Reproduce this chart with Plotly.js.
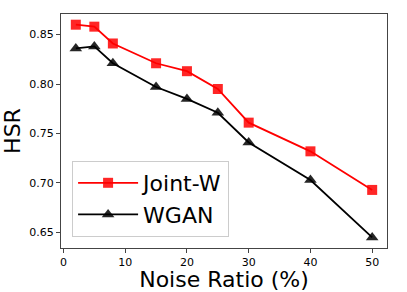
<!DOCTYPE html>
<html>
<head>
<meta charset="utf-8">
<script src="https://cdn.plot.ly/plotly-3.0.1.min.js"></script>
<style>html,body{margin:0;padding:0;background:#fff;}#chart{width:407px;height:292px;}</style>
</head>
<body>
<div id="chart"></div>
<script>
const noiseRatio = [2, 5, 8, 15, 20, 25, 30, 40, 50];
const jointW = [0.860, 0.858, 0.841, 0.821, 0.813, 0.795, 0.761, 0.732, 0.693];
const wgan = [0.836, 0.838, 0.821, 0.797, 0.785, 0.771, 0.741, 0.703, 0.645];
const xTicks = [0, 10, 20, 30, 40, 50];
const yTicks = [0.65, 0.70, 0.75, 0.80, 0.85];

const font = "DejaVu Sans, sans-serif";
const traces = [
  {x: noiseRatio, y: jointW, name: "Joint-W", mode: "lines+markers",
   line: {color: "#ff0000", width: 1.8},
   marker: {symbol: "square", size: 10, color: "#ff0000", opacity: 0.85}},
  {x: noiseRatio, y: wgan, name: "WGAN", mode: "lines+markers",
   line: {color: "#000000", width: 1.8},
   marker: {symbol: "triangle-up", size: 11, color: "#000000", opacity: 0.85}}
];
const layout = {
  width: 407, height: 292,
  margin: {l: 61, r: 20, t: 14, b: 44},
  paper_bgcolor: "#fff", plot_bgcolor: "#fff",
  font: {family: font, color: "#000"},
  showlegend: true,
  legend: {x: 0.034, y: 0.047, xanchor: "left", yanchor: "bottom",
    bgcolor: "rgba(255,255,255,0.9)", bordercolor: "#cccccc", borderwidth: 1,
    font: {size: 22, family: font}, itemwidth: 60, tracegroupgap: 0},
  xaxis: {range: [-0.4, 52.4], tickvals: xTicks, ticktext: xTicks.map(String),
    showgrid: false, zeroline: false, showline: true, mirror: true,
    linecolor: "#444", linewidth: 1, ticks: "outside", ticklen: 4, tickcolor: "#444",
    tickfont: {size: 11}, title: {text: "Noise Ratio (%)", font: {size: 22}, standoff: 2}},
  yaxis: {range: [0.6343, 0.8708], tickvals: yTicks, ticktext: yTicks.map(v => v.toFixed(2)),
    showgrid: false, zeroline: false, showline: true, mirror: true,
    linecolor: "#444", linewidth: 1, ticks: "outside", ticklen: 4, tickcolor: "#444",
    tickfont: {size: 11}, title: {text: "HSR", font: {size: 22}, standoff: 6}}
};
Plotly.newPlot("chart", traces, layout, {displayModeBar: false, staticPlot: true});
</script>
</body>
</html>
